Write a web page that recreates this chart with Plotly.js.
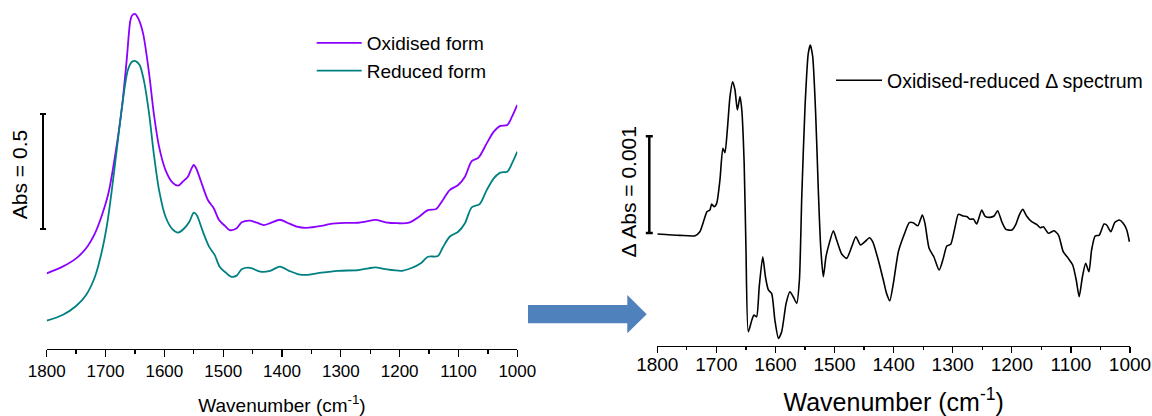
<!DOCTYPE html>
<html><head><meta charset="utf-8">
<script src="https://cdn.plot.ly/plotly-3.0.1.min.js"></script>
<style>html,body{margin:0;padding:0;background:#fff}#chart{width:1152px;height:416px}</style>
</head><body><div id="chart"></div>
<script>
// ---- data ----
const wavenumberOxidised = [1800,1773,1750,1733,1718,1707,1695,1684,1672,1664,1658,1655,1650,1644,1636,1626,1618,1609,1598,1586,1576.5,1569,1560,1555,1550,1546,1537.5,1526,1516,1507,1497,1489,1477,1468.5,1454,1442.5,1431,1420,1403.5,1391,1375,1359,1333,1319,1293,1270,1256,1241,1224,1204,1184,1167,1152,1138,1126.5,1115,1100.5,1089,1077.5,1066,1052,1040,1029,1017,1009,1000];
const absOxidised = [0.329,0.358,0.394,0.438,0.503,0.575,0.678,0.836,1.053,1.257,1.425,1.450,1.457,1.435,1.370,1.199,1.026,0.880,0.778,0.723,0.710,0.727,0.749,0.778,0.800,0.786,0.727,0.648,0.612,0.561,0.535,0.517,0.525,0.551,0.558,0.549,0.539,0.547,0.562,0.549,0.532,0.527,0.535,0.543,0.548,0.549,0.555,0.561,0.551,0.547,0.549,0.575,0.604,0.609,0.648,0.691,0.713,0.749,0.817,0.832,0.894,0.945,0.970,0.974,1.010,1.061];

const wavenumberReduced = [1800,1773,1750,1733,1718,1707,1698,1690,1681,1672,1662,1655,1649,1642,1635,1626,1618,1609,1598,1586,1576.5,1566,1557.5,1550,1545,1534.5,1524,1514.5,1506,1495.5,1486,1477,1468.5,1454,1437,1420,1403.5,1388,1373.5,1359,1333,1305,1270,1253,1241,1224,1196,1181,1164,1152,1135,1126.5,1115,1100.5,1089,1077.5,1064,1052,1040,1029,1017,1009,1000];
const absReduced = [0.123,0.148,0.187,0.235,0.314,0.416,0.532,0.677,0.865,1.053,1.213,1.249,1.252,1.235,1.170,1.025,0.851,0.691,0.575,0.520,0.506,0.525,0.553,0.593,0.583,0.510,0.445,0.409,0.358,0.332,0.314,0.319,0.347,0.353,0.336,0.340,0.358,0.340,0.326,0.322,0.332,0.340,0.343,0.351,0.355,0.347,0.340,0.351,0.373,0.401,0.404,0.442,0.488,0.510,0.547,0.616,0.630,0.691,0.742,0.767,0.771,0.807,0.858];

// difference spectrum, in units of 0.001 Abs
const wavenumberDiff = [1800,1762,1736,1728,1721,1716,1711,1708,1704,1699.5,1694,1689,1685.5,1681.5,1677,1672.5,1668.5,1664.5,1660,1657,1653,1650,1646,1640,1636.5,1632,1627.5,1621.5,1617,1612,1606.5,1601,1595,1589.5,1582,1575.5,1570,1564,1559.5,1555.5,1550,1544.5,1541,1537,1532,1527.5,1523.5,1519,1514.5,1509,1502,1496.5,1488,1479.5,1471,1464,1456,1448.5,1441,1435.5,1426,1417.5,1412,1406.5,1400.5,1392,1382.5,1373.5,1367,1359,1351.5,1347,1340,1332,1323,1316,1310,1303.5,1296,1290.5,1282,1275.5,1271,1265,1259.5,1251,1245.5,1237,1230,1224,1217,1210,1200,1193,1187.5,1181.5,1175,1166.5,1158,1152,1146.5,1138,1128.5,1121,1113,1104.5,1097,1091,1086,1080.5,1075,1069.5,1065,1059,1052,1044,1039.5,1032.5,1025.5,1018,1011.5,1005.5,1001];
const deltaAbsMilli = [-0.010,-0.024,-0.028,0.013,0.134,0.220,0.238,0.300,0.272,0.307,0.548,0.876,0.830,1.065,1.410,1.565,1.479,1.272,1.410,1.272,0.721,-0.142,-1.021,-0.900,-0.848,-0.866,-0.555,-0.245,-0.452,-0.589,-0.624,-0.900,-1.089,-1.021,-0.727,-0.607,-0.659,-0.727,-0.486,0.375,1.306,1.858,1.944,1.823,1.238,0.445,-0.142,-0.452,-0.245,-0.107,0.024,-0.072,-0.217,-0.262,-0.142,-0.038,-0.124,-0.090,-0.049,-0.090,-0.279,-0.486,-0.624,-0.700,-0.520,-0.193,-0.021,0.107,0.107,0.075,0.186,0.100,-0.158,-0.245,-0.383,-0.262,-0.134,-0.117,0.065,0.193,0.176,0.169,0.142,0.145,0.093,0.238,0.176,0.162,0.176,0.231,0.117,0.038,0.031,0.093,0.186,0.245,0.176,0.117,0.090,0.055,0.065,-0.003,0.024,-0.021,-0.193,-0.262,-0.331,-0.486,-0.659,-0.452,-0.313,-0.400,-0.176,-0.031,-0.021,0.093,0.083,0.013,0.111,0.134,0.100,0.031,-0.090];

const majorTicks = [1800,1700,1600,1500,1400,1300,1200,1100,1000];
const minorTicks = [1750,1650,1550,1450,1350,1250,1150,1050];
const seriesNames = ['Oxidised form','Reduced form','Oxidised-reduced \u0394 spectrum'];

// ---- layout ----
const W = 1152, H = 416;
const FONT = 'Liberation Sans, Arial, sans-serif';
const px = x => x / W;
const py = y => 1 - y / H;

function xAxis(dom, tickSize, titleSize, ticklen, standoff, labelStandoff) {
  return {
    domain: dom, range: [1800, 1000], tickmode: 'array', tickvals: majorTicks,
    ticks: 'outside', ticklen: ticklen, tickwidth: 1.3, tickcolor: '#000',
    showline: true, linewidth: 1.3, linecolor: '#000',
    showgrid: false, zeroline: false,
    minor: {tickmode: 'array', tickvals: minorTicks, ticks: 'outside', ticklen: ticklen * 0.55, tickwidth: 1.3, tickcolor: '#000', showgrid: false},
    tickfont: {family: FONT, size: tickSize, color: '#000'},
    ticklabelstandoff: labelStandoff,
    title: {text: 'Wavenumber (cm<sup>-1</sup>)', font: {family: FONT, size: titleSize, color: '#000'}, standoff: standoff},
    fixedrange: true
  };
}

const arrowPts = [[528,305],[627.3,305],[627.3,295],[646.7,314.2],[627.3,333.3],[627.3,323.3],[528,323.3]];
const arrowPath = 'M' + arrowPts.map(p => px(p[0]) + ',' + py(p[1])).join(' L') + ' Z';

const leftBarX = px(43), rightBarX = px(649.3);
const shapes = [
  {type: 'line', xref: 'paper', yref: 'y', x0: leftBarX, x1: leftBarX, y0: 0.5217, y1: 1.0217, line: {color: '#000', width: 2}},
  {type: 'line', xref: 'paper', yref: 'y', x0: px(40), x1: px(46), y0: 0.5217, y1: 0.5217, line: {color: '#000', width: 2}},
  {type: 'line', xref: 'paper', yref: 'y', x0: px(40), x1: px(46), y0: 1.0217, y1: 1.0217, line: {color: '#000', width: 2}},
  {type: 'line', xref: 'paper', yref: 'y2', x0: rightBarX, x1: rightBarX, y0: 0, y1: 1, line: {color: '#000', width: 2.5}},
  {type: 'line', xref: 'paper', yref: 'y2', x0: px(645.8), x1: px(652.8), y0: 0, y1: 0, line: {color: '#000', width: 2.5}},
  {type: 'line', xref: 'paper', yref: 'y2', x0: px(645.8), x1: px(652.8), y0: 1, y1: 1, line: {color: '#000', width: 2.5}},
  {type: 'path', xref: 'paper', yref: 'paper', path: arrowPath, fillcolor: '#4F81BD', line: {width: 0}}
];

const traces = [
  {x: wavenumberOxidised, y: absOxidised, name: seriesNames[0], type: 'scatter', mode: 'lines',
   line: {color: '#8B00FF', width: 1.8, shape: 'spline', smoothing: 0.8}, xaxis: 'x', yaxis: 'y', legend: 'legend'},
  {x: wavenumberReduced, y: absReduced, name: seriesNames[1], type: 'scatter', mode: 'lines',
   line: {color: '#008080', width: 1.8, shape: 'spline', smoothing: 0.8}, xaxis: 'x', yaxis: 'y', legend: 'legend'},
  {x: wavenumberDiff, y: deltaAbsMilli, name: seriesNames[2], type: 'scatter', mode: 'lines',
   line: {color: '#000', width: 1.6, shape: 'spline', smoothing: 0.6}, xaxis: 'x2', yaxis: 'y2', legend: 'legend2'}
];

const layout = {
  width: W, height: H, margin: {l: 0, r: 0, t: 0, b: 0},
  paper_bgcolor: '#fff', plot_bgcolor: 'rgba(0,0,0,0)',
  font: {family: FONT, color: '#000'},
  xaxis: Object.assign(xAxis([px(46.7), px(517.3)], 17, 19, 7, 22, -1), {anchor: 'y'}),
  yaxis: {domain: [67/H, 1], range: [0, 1.5174], anchor: 'x', showline: false, showticklabels: false, ticks: '',
          showgrid: false, zeroline: false, fixedrange: true,
          title: {text: 'Abs = 0.5', font: {family: FONT, size: 21, color: '#000'}, standoff: 12}},
  xaxis2: Object.assign(xAxis([px(657.3), px(1130)], 19, 25, 6, 21, -5), {anchor: 'y2'}),
  yaxis2: {domain: [70.3/H, 1 - 37.7/H], range: [-1.165, 2.0197], anchor: 'x2', showline: false, showticklabels: false, ticks: '',
          showgrid: false, zeroline: false, fixedrange: true,
          title: {text: '\u0394 Abs = 0.001', font: {family: FONT, size: 21, color: '#000'}, standoff: 13}},
  legend: {x: px(311.7), y: py(24), xanchor: 'left', yanchor: 'top', bgcolor: 'rgba(0,0,0,0)', borderwidth: 0,
           font: {family: FONT, size: 19, color: '#000'}, itemwidth: 45, tracegroupgap: 0},
  legend2: {x: px(831), y: py(61), xanchor: 'left', yanchor: 'top', bgcolor: 'rgba(0,0,0,0)', borderwidth: 0,
           font: {family: FONT, size: 19.5, color: '#000'}, itemwidth: 46},
  showlegend: true,
  shapes: shapes
};

Plotly.newPlot('chart', traces, layout, {displayModeBar: false, staticPlot: true});
</script>
</body></html>
